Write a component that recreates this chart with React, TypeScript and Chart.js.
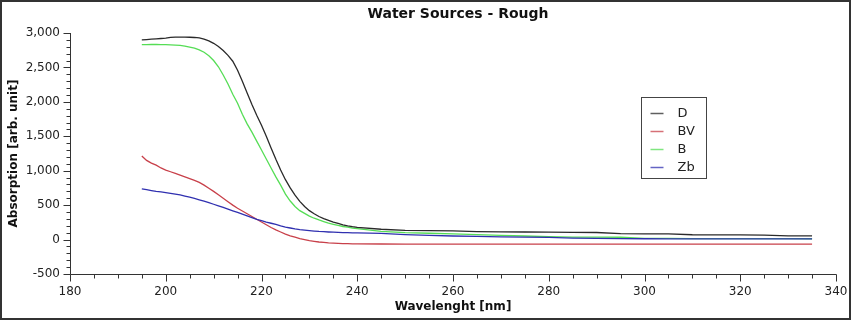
import React, { useEffect, useRef } from "react";
import { Chart, registerables } from "chart.js";

Chart.register(...registerables);

// Wavelength grid (nm)
const wavelengths = [
  195, 196, 197, 198, 199, 200, 201, 202, 203, 204, 205, 206, 207, 208, 209,
  210, 211, 212, 213, 214, 215, 216, 217, 218, 219, 220, 221, 222, 223, 224,
  225, 226, 227, 228, 229, 230, 231, 232, 233, 234, 235, 236, 237, 238, 239,
  240, 245, 250, 255, 260, 265, 270, 275, 280, 285, 290, 295, 300, 305, 310,
  315, 320, 325, 330, 335,
];

const seriesD = [
  2900, 2905, 2910, 2915, 2920, 2925, 2935, 2940, 2940, 2940, 2938, 2935, 2928, 2912, 2885,
  2850, 2805, 2745, 2675, 2590, 2460, 2300, 2130, 1960, 1805, 1660, 1500, 1330, 1165, 1010,
  870, 750, 645, 555, 480, 420, 375, 335, 305, 280, 255, 235, 215, 200, 188,
  178, 150, 135, 130, 125, 115, 112, 110, 108, 105, 103, 85, 83, 82, 70,
  68, 67, 66, 55, 54,
];

const seriesBV = [
  1215, 1150, 1110, 1080, 1040, 1010, 985, 960, 935, 910, 885, 860, 830, 790, 745,
  700, 650, 600, 550, 500, 455, 415, 375, 335, 295, 255, 215, 175, 140, 110,
  80, 55, 35, 15, 0, -15, -25, -35, -42, -48, -52, -55, -58, -60, -62,
  -63, -64, -65, -65, -65, -65, -65, -65, -65, -65, -65, -65, -65, -65, -65,
  -65, -65, -65, -65, -65,
];

const seriesB = [
  2830, 2832, 2833, 2833, 2832, 2830, 2828, 2825, 2820, 2810, 2795, 2780, 2755, 2720, 2670,
  2600, 2510, 2390, 2260, 2110, 1980, 1820, 1680, 1560, 1430, 1300, 1170, 1040, 910, 790,
  660, 560, 480, 420, 380, 340, 310, 285, 262, 240, 222, 205, 190, 180, 168,
  160, 118, 100, 92, 82, 73, 62, 52, 44, 36, 35, 34, 18, 16, 15,
  14, 14, 13, 13, 12,
];

const seriesZb = [
  735, 725, 712, 700, 692, 682, 672, 660, 648, 632, 615, 597, 578, 558, 536,
  513, 490, 466, 442, 418, 394, 370, 345, 320, 295, 275, 255, 237, 220, 200,
  182, 168, 155, 145, 137, 130, 124, 118, 114, 110, 107, 104, 102, 100, 98,
  96, 90, 72, 60, 52, 45, 40, 36, 32, 22, 18, 15, 12, 11, 10,
  10, 10, 10, 10, 10,
];

const seriesNames = ["D", "BV", "B", "Zb"];
const seriesColors = ["#2a2a2a", "#c8404a", "#55dd55", "#3030b0"];

const chartTitle = "Water Sources - Rough";
const xTitle = "Wavelenght [nm]";
const yTitle = "Absorption [arb. unit]";

const xMin = 180;
const xMax = 340;
const xMajor = 20;
const xMinor = 5;
const yMin = -500;
const yMax = 3000;
const yMajor = 500;
const yMinor = 100;

const FONT = "'DejaVu Sans', Verdana, sans-serif";

// Title centred over the plot area
const plotTitle = {
  id: "plotTitle",
  afterDraw(chart: any, _args: any, opts: any) {
    const { ctx, chartArea } = chart;
    ctx.save();
    ctx.font = `bold ${opts.size}px ${FONT}`;
    ctx.fillStyle = opts.color;
    ctx.textAlign = "center";
    ctx.textBaseline = "middle";
    ctx.fillText(opts.text, (chartArea.left + chartArea.right) / 2 + opts.shift, opts.y);
    ctx.restore();
  },
};

// Axis lines with major and minor tick marks
const axisMarks = {
  id: "axisMarks",
  afterDraw(chart: any, _args: any, opts: any) {
    const { ctx, scales } = chart;
    const xs = scales.x;
    const ys = scales.y;
    const ax = Math.round(xs.getPixelForValue(xMin)) + 0.5;
    const ay = Math.round(ys.getPixelForValue(yMin)) + 0.5;
    ctx.save();
    ctx.strokeStyle = opts.color;
    ctx.lineWidth = 1;
    ctx.beginPath();
    ctx.moveTo(ax, Math.round(ys.getPixelForValue(yMax)));
    ctx.lineTo(ax, ay);
    ctx.lineTo(Math.round(xs.getPixelForValue(xMax)) + 0.5, ay);
    for (let v = xMin; v <= xMax; v += xMinor) {
      const px = Math.round(xs.getPixelForValue(v)) + 0.5;
      const len = v % xMajor === 0 ? opts.major : opts.minor;
      ctx.moveTo(px, ay);
      ctx.lineTo(px, ay + len);
    }
    for (let v = yMin; v <= yMax; v += yMinor) {
      const py = Math.round(ys.getPixelForValue(v)) + 0.5;
      const len = v % yMajor === 0 ? opts.major : opts.minor;
      ctx.moveTo(ax, py);
      ctx.lineTo(ax - len, py);
    }
    ctx.stroke();
    ctx.restore();
  },
};

// Boxed legend floating inside the plot area
const boxLegend = {
  id: "boxLegend",
  afterDraw(chart: any, _args: any, opts: any) {
    const { ctx, chartArea } = chart;
    const x = Math.round(chartArea.left + opts.offsetX) + 0.5;
    const y = Math.round(chartArea.top + opts.offsetY) + 0.5;
    ctx.save();
    ctx.fillStyle = "#ffffff";
    ctx.fillRect(x, y, opts.width, opts.height);
    ctx.strokeStyle = "#444444";
    ctx.lineWidth = 1;
    ctx.strokeRect(x, y, opts.width, opts.height);
    ctx.font = `13px ${FONT}`;
    ctx.textBaseline = "middle";
    ctx.textAlign = "left";
    chart.data.datasets.forEach((ds: any, i: number) => {
      const cy = Math.round(y + opts.firstRow + i * opts.rowGap) + 0.5;
      ctx.strokeStyle = ds.borderColor;
      ctx.globalAlpha = 0.75;
      ctx.lineWidth = 1.5;
      ctx.beginPath();
      ctx.moveTo(x + opts.sampleStart, cy);
      ctx.lineTo(x + opts.sampleEnd, cy);
      ctx.stroke();
      ctx.globalAlpha = 1;
      ctx.fillStyle = "#222222";
      ctx.fillText(ds.label, x + opts.textStart, cy);
    });
    ctx.restore();
  },
};

export default function App() {
  const canvasRef = useRef<HTMLCanvasElement | null>(null);

  useEffect(() => {
    if (!canvasRef.current) return;
    const allSeries = [seriesD, seriesBV, seriesB, seriesZb];
    const datasets = allSeries.map((vals, i) => ({
      label: seriesNames[i],
      data: wavelengths.map((w, j) => ({ x: w, y: vals[j] })),
      borderColor: seriesColors[i],
      backgroundColor: seriesColors[i],
      borderWidth: 1.3,
      pointRadius: 0,
      tension: 0,
      fill: false,
      order: i === 3 ? 0 : i + 1,
    }));

    const chart = new Chart(canvasRef.current, {
      type: "line",
      data: { datasets },
      plugins: [plotTitle, axisMarks, boxLegend],
      options: {
        animation: false,
        responsive: false,
        devicePixelRatio: 1,
        layout: { padding: { left: 0, right: 16, top: 33, bottom: 0 } },
        plugins: {
          legend: { display: false },
          tooltip: { enabled: false },
          title: { display: false },
          plotTitle: { text: chartTitle, size: 14, color: "#111111", y: 14.5, shift: 5 },
          axisMarks: { color: "#333333", major: 7, minor: 4 },
          boxLegend: {
            offsetX: 571,
            offsetY: 64,
            width: 65,
            height: 81,
            firstRow: 15,
            rowGap: 18,
            sampleStart: 9,
            sampleEnd: 22,
            textStart: 36,
          },
        } as any,
        scales: {
          x: {
            type: "linear",
            min: xMin,
            max: xMax,
            border: { display: false },
            grid: {
              display: true,
              drawOnChartArea: false,
              drawTicks: true,
              tickLength: 7,
              color: "rgba(0,0,0,0)",
            },
            ticks: {
              stepSize: xMajor,
              color: "#222222",
              padding: 4,
              font: { family: FONT, size: 12 },
              maxRotation: 0,
            },
            title: {
              display: true,
              text: xTitle,
              color: "#111111",
              font: { family: FONT, size: 12, weight: "bold" },
              padding: { top: 0, bottom: 7 },
            },
            afterFit: (scale: any) => {
              scale.height = 47;
            },
          },
          y: {
            type: "linear",
            min: yMin,
            max: yMax,
            border: { display: false },
            grid: {
              display: true,
              drawOnChartArea: false,
              drawTicks: true,
              tickLength: 7,
              color: "rgba(0,0,0,0)",
            },
            ticks: {
              stepSize: yMajor,
              color: "#222222",
              padding: 3,
              font: { family: FONT, size: 12 },
              callback: (v: any) => Number(v).toLocaleString("en-US"),
            },
            title: {
              display: true,
              text: yTitle,
              color: "#111111",
              font: { family: FONT, size: 12, weight: "bold" },
              padding: { top: 7, bottom: 0 },
            },
            afterFit: (scale: any) => {
              scale.width = 70;
            },
          },
        },
      } as any,
    });

    return () => chart.destroy();
  }, []);

  return (
    <div
      style={{
        position: "fixed",
        left: 0,
        top: 0,
        width: 852,
        height: 321,
        background: "#ffffff",
      }}
    >
      <canvas
        ref={canvasRef}
        width={852}
        height={321}
        style={{ position: "absolute", left: 0, top: 0, width: 852, height: 321 }}
      />
      <div
        style={{
          position: "absolute",
          left: 0,
          top: 0,
          width: 851,
          height: 320,
          border: "2px solid #333333",
          boxSizing: "border-box",
          pointerEvents: "none",
        }}
      />
    </div>
  );
}
